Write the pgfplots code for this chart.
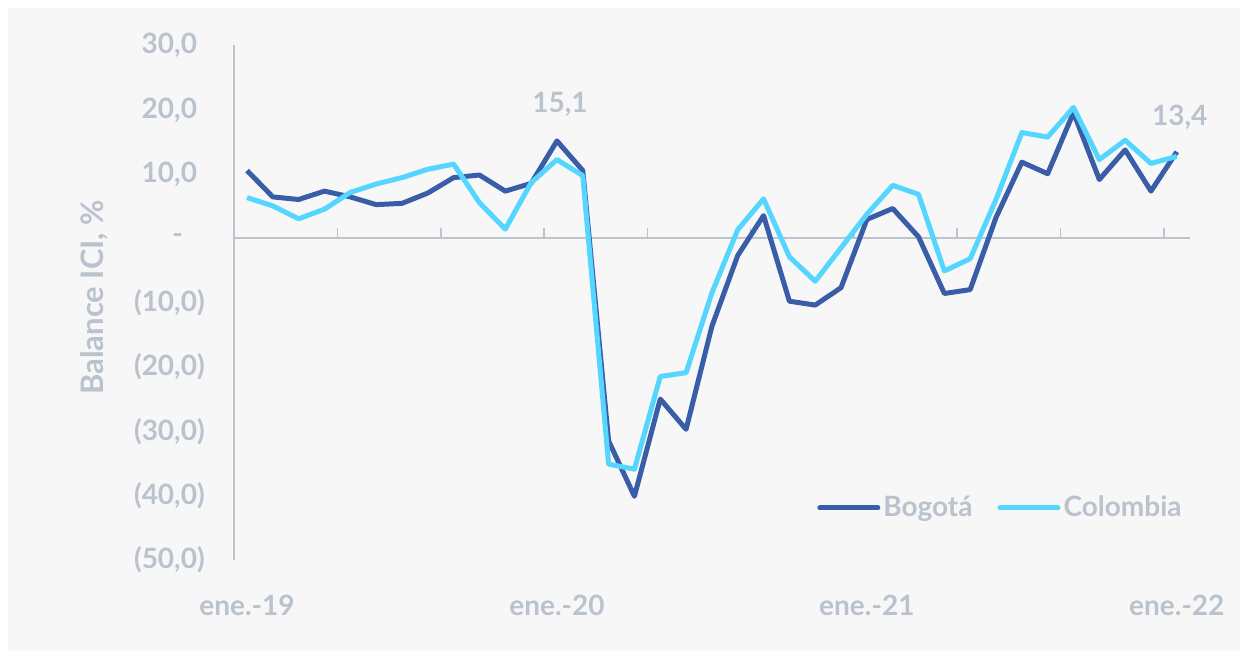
\documentclass[border=0pt]{standalone}
\usepackage{fontspec}
\setmainfont{Lato}
\usepackage{pgfplots}
\pgfplotsset{compat=1.18}
\definecolor{bogota}{RGB}{58,93,168}
\definecolor{colombia}{RGB}{85,214,255}
\definecolor{txtgray}{RGB}{186,194,205}
\definecolor{axgray}{RGB}{190,196,206}
\definecolor{bgcol}{RGB}{247,247,247}
\newcommand{\lbl}{\fontsize{14}{16}\selectfont\bfseries}
\begin{document}
\begin{tikzpicture}
\useasboundingbox (0pt,0pt) rectangle (620pt,325.5pt);
\fill[bgcol] (4pt,0pt) rectangle (620pt,321.5pt);
\begin{axis}[
    at={(117.05pt,45.5pt)}, anchor=south west,
    scale only axis, width=477.8pt, height=257.5pt,
    xmin=-0.5, xmax=36.5, ymin=-50, ymax=30,
    clip=false,
    axis x line*=bottom, x axis line style={draw=none},
    axis y line*=left, y axis line style={-, draw=axgray, line width=1pt},
    major tick length=0pt,
    xtick={0,12,24,36},
    xticklabels={ene.-19,ene.-20,ene.-21,ene.-22},
    xticklabel style={font=\lbl, text=txtgray, anchor=north, inner sep=0pt, yshift=-17.5pt},
    ytick={30,20,10,0,-10,-20,-30,-40,-50},
    yticklabels={{30,0\phantom{)}},{20,0\phantom{)}},{10,0\phantom{)}},{-\hspace*{11pt}},{(10,0)},{(20,0)},{(30,0)},{(40,0)},{(50,0)}},
    yticklabel style={font=\lbl, text=txtgray, anchor=east, inner sep=0pt, xshift=-14.5pt},
    ylabel={Balance ICI, \%},
    ylabel style={font=\fontsize{15.5}{17}\selectfont\bfseries, text=txtgray, at={(axis description cs:-0.146,0.51)}, anchor=center},
    legend style={at={(0.995,0.101)}, anchor=east, draw=none, fill=none, inner sep=0pt,
        font=\lbl, text=txtgray, legend columns=2,
        nodes={inner sep=1.5pt},
        /tikz/every even column/.append style={column sep=11pt}},
    legend image code/.code={\draw[#1, line cap=round] (0pt,0pt) -- (29pt,0pt);},
]
% zero line
\addplot[axgray, line width=1pt, forget plot] coordinates {(-0.5,0) (36.5,0)};
\pgfplotsinvokeforeach{3.5,7.5,11.5,15.5,19.5,23.5,27.5,31.5,35.5}{
  \draw[axgray, line width=0.8pt] (axis cs:#1,0) -- ++(0pt,5pt);
}
% Bogota
\addplot[bogota, line width=2.5pt, line join=round] coordinates {
(0,10.5) (1,6.4) (2,6.0) (3,7.3) (4,6.4) (5,5.2) (6,5.4) (7,7.0) (8,9.4) (9,9.8)
(10,7.3) (11,8.5) (12,15.1) (13,10.5) (14,-31.5) (15,-40.1) (16,-25.0) (17,-29.7)
(18,-13.7) (19,-2.7) (20,3.5) (21,-9.8) (22,-10.4) (23,-7.7) (24,2.9) (25,4.6)
(26,0.2) (27,-8.6) (28,-8.0) (29,3.2) (30,11.8) (31,10.0) (32,19.5) (33,9.1)
(34,13.7) (35,7.3) (36,13.4)};
\addlegendentry{Bogotá}
% Colombia
\addplot[colombia, line width=2.5pt, line join=round] coordinates {
(0,6.3) (1,5.0) (2,3.0) (3,4.5) (4,7.1) (5,8.4) (6,9.4) (7,10.7) (8,11.5) (9,5.5)
(10,1.4) (11,8.6) (12,12.2) (13,9.7) (14,-35.1) (15,-35.9) (16,-21.5) (17,-20.9)
(18,-8.5) (19,1.3) (20,6.1) (21,-2.9) (22,-6.7) (23,-1.5) (24,3.7) (25,8.2)
(26,6.8) (27,-5.1) (28,-3.2) (29,6.0) (30,16.4) (31,15.7) (32,20.3) (33,12.2)
(34,15.2) (35,11.6) (36,12.7)};
\addlegendentry{Colombia}
\node[font=\lbl, text=txtgray, anchor=center] at ([xshift=1.5pt, yshift=18.5pt]axis cs:12,15.1) {15,1};
\node[font=\lbl, text=txtgray, anchor=center] at ([xshift=1.5pt, yshift=17.5pt]axis cs:36,13.4) {13,4};
\end{axis}
\end{tikzpicture}
\end{document}
